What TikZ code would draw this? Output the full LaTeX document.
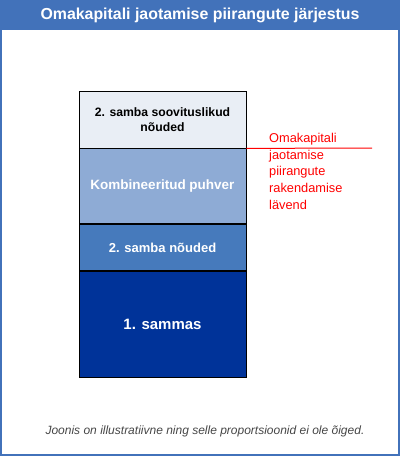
\documentclass[tikz,border=0pt]{standalone}
\usepackage{fontspec}
\setmainfont{Liberation Sans}
\usepackage{xcolor}
\usetikzlibrary{positioning}
\definecolor{headblue}{RGB}{66,114,186}
\definecolor{paleblue}{RGB}{233,238,245}
\definecolor{midblue}{RGB}{142,171,213}
\definecolor{deepblue}{RGB}{70,122,188}
\definecolor{navy}{RGB}{0,51,153}
\definecolor{notegray}{RGB}{70,70,70}

\begin{document}
\begin{tikzpicture}[x=1pt, y=-1pt, node distance=0pt, every node/.style={inner sep=0pt},
    layer/.style={draw=black, line width=0.8pt, minimum width=167pt, align=center, font=\bfseries\fontsize{12.2}{14.5}\selectfont}]
    % Frame and heading
    \useasboundingbox (0,0) rectangle (400,456);
    \fill[headblue] (0,0) rectangle (400,30);
    \draw[headblue, line width=2pt] (1,1) rectangle (399,455);
    \node (title) at (200,15.5) [text=white, font=\bfseries\fontsize{15.9}{18}\selectfont] {Omakapitali jaotamise piirangute järjestus};

    % Stack
    \node (advice) at (162.5,119.5) [layer, fill=paleblue, minimum height=57pt] {2. samba soovituslikud\\nõuded};
    \node (buffer) [below=of advice, layer, fill=midblue, text=white, minimum height=75pt, font=\bfseries\fontsize{13.5}{16}\selectfont] {Kombineeritud puhver};
    \node (pillar2) [below=of buffer, layer, fill=deepblue, text=white, minimum height=46pt, font=\bfseries\fontsize{13}{16}\selectfont] {2. samba nõuded};
    \node (pillar1) [below=of pillar2, layer, fill=navy, text=white, minimum height=106pt, font=\bfseries\fontsize{15}{18}\selectfont] {1. sammas};

    % Threshold
    \coordinate (lineend) at (372,148);
    \draw[red, line width=1pt] (advice.south east) -- (lineend);
    \node (threshold) at (269,133) [anchor=north west, align=left, text=red, font=\fontsize{12.8}{16.7}\selectfont] {Omakapitali\\jaotamise\\piirangute\\rakendamise\\lävend};

    \node (note) at (205,431) [text=notegray, font=\itshape\fontsize{12}{14}\selectfont] {Joonis on illustratiivne ning selle proportsioonid ei ole õiged.};
\end{tikzpicture}
\end{document}
